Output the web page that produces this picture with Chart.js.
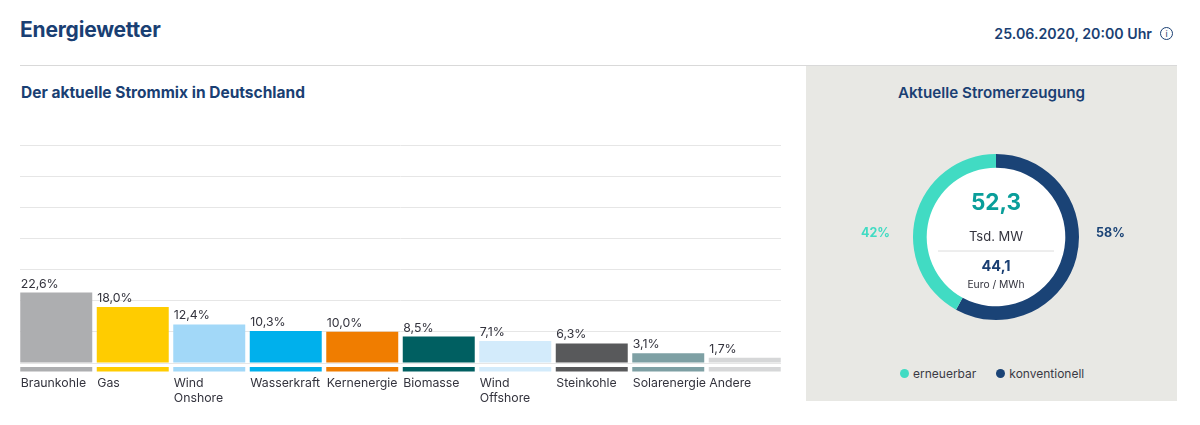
<!DOCTYPE html>
<html lang="de">
<head>
<meta charset="utf-8">
<title>Energiewetter</title>
<script src="https://cdn.jsdelivr.net/npm/chart.js@4"></script>
<style>
    html, body { margin: 0; padding: 0; background: #fff; }
    body { width: 1200px; height: 425px; position: relative; overflow: hidden; font-family: Inter, sans-serif; color: #1a3f73; }
    .abs { position: absolute; white-space: nowrap; }
    #title { left: 20px; top: 17px; font-size: 21px; line-height: 26px; font-weight: 700; letter-spacing: -0.2px; }
    #date { right: 48px; top: 25px; font-size: 14.2px; line-height: 18px; font-weight: 600; }
    #info { left: 1160px; top: 27px; width: 11px; height: 11px; border: 1px solid #1a3f73; border-radius: 50%; font-size: 9px; line-height: 11px; text-align: center; }
    #rule { left: 20px; top: 65px; width: 1157px; height: 1px; background: #d9d9d9; }
    #subtitle { left: 21px; top: 83px; font-size: 15.5px; line-height: 20px; font-weight: 700; }
    #panel { left: 806px; top: 66px; width: 371px; height: 335px; background: #e8e8e4; }
    #panelTitle { left: 806px; width: 371px; top: 83px; text-align: center; font-size: 15.2px; line-height: 20px; font-weight: 600; }
    #barWrap { left: 20px; top: 130px; width: 761px; height: 283px; overflow: hidden; }
    #barBox { position: absolute; left: -1.7px; top: 0; width: 765px; height: 283px; }
    #donutBox { left: 806px; top: 147px; width: 380px; height: 180px; }
    #legend { left: 900px; top: 366px; font-size: 12px; line-height: 16px; color: #3a3a44; display: flex; }
    #legend span { display: inline-block; }
    #legend .dot { width: 9px; height: 9px; border-radius: 50%; margin: 3px 4px 0 0; }
    #legend .txt { margin-right: 20px; }
</style>
</head>
<body>
<div class="abs" id="title">Energiewetter</div>
<div class="abs" id="date">25.06.2020, 20:00 Uhr</div>
<div class="abs" id="info">i</div>
<div class="abs" id="rule"></div>
<div class="abs" id="subtitle">Der aktuelle Strommix in Deutschland</div>
<div class="abs" id="panel"></div>
<div class="abs" id="panelTitle">Aktuelle Stromerzeugung</div>
<div class="abs" id="barWrap"><div id="barBox"><canvas id="chart-mix"></canvas></div></div>
<div class="abs" id="donutBox"><canvas id="chart-donut"></canvas></div>
<div class="abs" id="legend"></div>

<script>
// Chart Strommix
let labelsMix = ['Braunkohle', 'Gas', ['Wind', 'Onshore'], 'Wasserkraft', 'Kernenergie', 'Biomasse', ['Wind', 'Offshore'], 'Steinkohle', 'Solarenergie', 'Andere'];
let dataMix = [22.6, 18.0, 12.4, 10.3, 10.0, 8.5, 7.1, 6.3, 3.1, 1.7];
let colorsMix = ['#adaeb0', '#ffcc00', '#a2d8f8', '#00b0ec', '#f07d00', '#005f61', '#d3ebfb', '#58595b', '#7ea0a4', '#d6d7d8'];

// Chart Stromerzeugung
let labelsDonut = ['konventionell', 'erneuerbar'];
let dataDonut = [58, 42];
let colorsDonut = ['#1a4376', '#41dbc3'];
let textColorsDonut = ['#1a4376', '#41dbc3'];
let centerPower = '52,3';
let centerPowerUnit = 'Tsd. MW';
let centerPrice = '44,1';
let centerPriceUnit = 'Euro / MWh';

let fontName = 'Inter, sans-serif';

// value above each bar and the coloured strip below the baseline
let barExtras = {
    id: 'barExtras',
    afterDatasetsDraw(chart) {
        let ctx = chart.ctx;
        let bars = chart.getDatasetMeta(0).data;
        ctx.save();
        bars.forEach((bar, i) => {
            let left = bar.x - bar.width / 2;
            ctx.fillStyle = colorsMix[i];
            ctx.fillRect(left, chart.chartArea.bottom + 4, bar.width, 4.5);
            ctx.fillStyle = '#33333d';
            ctx.font = '12.3px ' + fontName;
            ctx.textAlign = 'left';
            ctx.textBaseline = 'alphabetic';
            ctx.fillText(dataMix[i].toFixed(1).replace('.', ',') + '%', left + 0.5, bar.y - 5);
        });
        ctx.restore();
    }
};

let chartMix = new Chart(document.getElementById('chart-mix').getContext('2d'), {
    type: 'bar',
    data: {
        labels: labelsMix,
        datasets: [{
            data: dataMix,
            backgroundColor: colorsMix,
            barPercentage: 1,
            categoryPercentage: 0.941
        }]
    },
    options: {
        responsive: true,
        maintainAspectRatio: false,
        animation: false,
        layout: { padding: { top: 15, left: 0, right: 0, bottom: 0 } },
        plugins: { legend: { display: false }, tooltip: { enabled: false } },
        scales: {
            x: {
                grid: { display: false, drawTicks: false },
                border: { display: false },
                ticks: {
                    align: 'start',
                    labelOffset: -35.5,
                    padding: 13,
                    maxRotation: 0,
                    autoSkip: false,
                    color: '#33333d',
                    font: { family: fontName, size: 12.3 }
                },
                afterFit(scale) {
                    scale.paddingLeft = 0;
                    scale.paddingRight = 0;
                    scale.height = 50;
                }
            },
            y: {
                min: 0,
                max: 70,
                grid: { color: '#e6e6e6', lineWidth: 1, drawTicks: false },
                border: { display: false },
                ticks: { display: false, stepSize: 10 }
            }
        }
    },
    plugins: [barExtras]
});

// white middle, centre figures and the percentages beside the ring
let donutExtras = {
    id: 'donutExtras',
    beforeDatasetsDraw(chart) {
        let arc = chart.getDatasetMeta(0).data[0];
        let ctx = chart.ctx;
        ctx.save();
        ctx.fillStyle = '#fff';
        ctx.beginPath();
        ctx.arc(arc.x, arc.y, arc.innerRadius + 0.5, 0, Math.PI * 2);
        ctx.fill();
        ctx.restore();
    },
    afterDatasetsDraw(chart) {
        let arc = chart.getDatasetMeta(0).data[0];
        let ctx = chart.ctx;
        let cx = arc.x, cy = arc.y, r = arc.outerRadius;
        ctx.save();
        ctx.textAlign = 'center';
        ctx.textBaseline = 'middle';

        ctx.fillStyle = '#0a9e9a';
        ctx.font = '700 22.5px ' + fontName;
        ctx.fillText(centerPower, cx, cy - 34);

        ctx.fillStyle = '#33333d';
        ctx.font = '13px ' + fontName;
        ctx.fillText(centerPowerUnit, cx, cy);

        ctx.strokeStyle = '#dcdcdc';
        ctx.lineWidth = 1;
        ctx.beginPath();
        ctx.moveTo(cx - 58, cy + 14);
        ctx.lineTo(cx + 58, cy + 14);
        ctx.stroke();

        ctx.fillStyle = '#1a3f73';
        ctx.font = '700 14.5px ' + fontName;
        ctx.fillText(centerPrice, cx, cy + 30);

        ctx.fillStyle = '#33333d';
        ctx.font = '10.3px ' + fontName;
        ctx.fillText(centerPriceUnit, cx, cy + 48);

        ctx.font = '700 12.5px ' + fontName;
        ctx.textAlign = 'left';
        ctx.fillStyle = textColorsDonut[0];
        ctx.fillText(dataDonut[0] + '%', cx + r + 17, cy - 4);
        ctx.textAlign = 'right';
        ctx.fillStyle = textColorsDonut[1];
        ctx.fillText(dataDonut[1] + '%', cx - r - 23, cy - 4);
        ctx.restore();
    }
};

let chartDonut = new Chart(document.getElementById('chart-donut').getContext('2d'), {
    type: 'doughnut',
    data: {
        labels: labelsDonut,
        datasets: [{
            data: dataDonut,
            backgroundColor: colorsDonut,
            borderWidth: 0
        }]
    },
    options: {
        responsive: true,
        maintainAspectRatio: false,
        animation: false,
        cutout: '83.5%',
        layout: { padding: 7 },
        plugins: { legend: { display: false }, tooltip: { enabled: false } }
    },
    plugins: [donutExtras]
});

// legend under the ring, erneuerbar comes first
let legendBox = document.getElementById('legend');
[1, 0].forEach(i => {
    let dot = document.createElement('span');
    dot.className = 'dot';
    dot.style.background = colorsDonut[i];
    let txt = document.createElement('span');
    txt.className = 'txt';
    txt.textContent = labelsDonut[i];
    legendBox.appendChild(dot);
    legendBox.appendChild(txt);
});
</script>
</body>
</html>
